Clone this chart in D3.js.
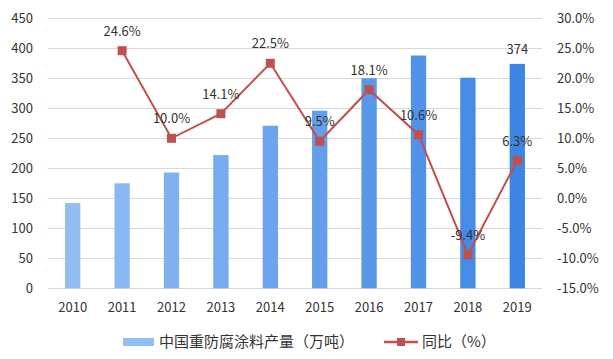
<!DOCTYPE html>
<html><head><meta charset="utf-8">
<script src="https://cdn.jsdelivr.net/npm/d3@7"></script>
<style>body{margin:0;background:#fff}svg{display:block}text{font-family:"Noto Sans CJK SC","Noto Sans",sans-serif;fill:#333}</style>
</head><body><div id="chart"></div>
<script>
const years = ["2010","2011","2012","2013","2014","2015","2016","2017","2018","2019"];
const output = [142,175,193,222,271,296,350,388,351,374];
const growth = [null,24.6,10.0,14.1,22.5,9.5,18.1,10.6,-9.4,6.3];
const leftTicks = [0,50,100,150,200,250,300,350,400,450];
const rightTicks = [-15,-10,-5,0,5,10,15,20,25,30];
const seriesNames = ["中国重防腐涂料产量（万吨）","同比（%）"];

const W=613,H=359;
const svg=d3.select("#chart").append("svg").attr("width",W).attr("height",H);
const x=d3.scaleBand().domain(years).range([48,542]).paddingInner(0.69).paddingOuter(0.345);
const xc=d=>x(d)+x.bandwidth()/2;
const yL=d3.scaleLinear().domain([0,450]).range([288.3,18.3]);
const yR=d3.scaleLinear().domain([-15,30]).range([288.3,18.3]);
const barColor=d3.interpolateRgb("#92bef5","#3d85e3");

// grid
svg.append("g").selectAll("line").data(leftTicks).join("line")
 .attr("x1",48).attr("x2",542).attr("y1",d=>Math.round(yL(d))+0.5).attr("y2",d=>Math.round(yL(d))+0.5)
 .attr("stroke","#d9d9d9").attr("stroke-width",1);

// left axis
const axL=svg.append("g").attr("transform","translate(48,0)")
 .call(d3.axisLeft(yL).tickValues(leftTicks).tickSize(0).tickPadding(15));
axL.select(".domain").remove();
axL.selectAll("text").attr("font-size",13).attr("fill","#333").style("font-family",'"Noto Sans CJK SC",sans-serif');

// right axis
const axR=svg.append("g").attr("transform","translate(542,0)")
 .call(d3.axisRight(yR).tickValues(rightTicks).tickSize(0).tickPadding(15).tickFormat(d=>d.toFixed(1)+"%"));
axR.select(".domain").remove();
axR.selectAll("text").attr("font-size",13).attr("fill","#333").style("font-family",'"Noto Sans CJK SC",sans-serif');

// x axis
const axX=svg.append("g").attr("transform","translate(0,288.3)")
 .call(d3.axisBottom(x).tickSize(0).tickPadding(14));
axX.select(".domain").remove();
axX.selectAll("text").attr("font-size",13).attr("fill","#333").style("font-family",'"Noto Sans CJK SC",sans-serif');

// bars
svg.append("g").selectAll("rect").data(output).join("rect")
 .attr("x",(d,i)=>x(years[i])).attr("width",x.bandwidth())
 .attr("y",d=>yL(d)).attr("height",d=>yL(0)-yL(d))
 .attr("fill",(d,i)=>barColor(i/(years.length-1)));

// last bar label
svg.append("text").attr("x",xc(years[9])).attr("y",yL(output[9])-10)
 .attr("text-anchor","middle").attr("font-size",13).text(output[9]);

// line
const pts=growth.map((g,i)=>({g,y:years[i]})).filter(d=>d.g!==null);
svg.append("path").datum(pts)
 .attr("d",d3.line().x(d=>xc(d.y)).y(d=>yR(d.g)))
 .attr("fill","none").attr("stroke","#c0504d").attr("stroke-width",2);
svg.append("g").selectAll("rect").data(pts).join("rect")
 .attr("x",d=>xc(d.y)-4.5).attr("y",d=>yR(d.g)-4.5).attr("width",9).attr("height",9)
 .attr("fill","#c0504d");
svg.append("g").selectAll("text").data(pts).join("text")
 .attr("x",d=>xc(d.y)).attr("y",d=>yR(d.g)-15)
 .attr("text-anchor","middle").attr("font-size",13).text(d=>d.g.toFixed(1)+"%");

// legend
const lg=svg.append("g");
lg.append("rect").attr("x",123).attr("y",338).attr("width",31).attr("height",8).attr("fill","#92bef5");
lg.append("text").attr("x",159).attr("y",347).attr("font-size",15).text(seriesNames[0]);
lg.append("line").attr("x1",384).attr("x2",418).attr("y1",342).attr("y2",342).attr("stroke","#c0504d").attr("stroke-width",2.5);
lg.append("rect").attr("x",397).attr("y",338).attr("width",8).attr("height",8).attr("fill","#c0504d");
lg.append("text").attr("x",422).attr("y",347).attr("font-size",15).text(seriesNames[1]);
</script></body></html>
